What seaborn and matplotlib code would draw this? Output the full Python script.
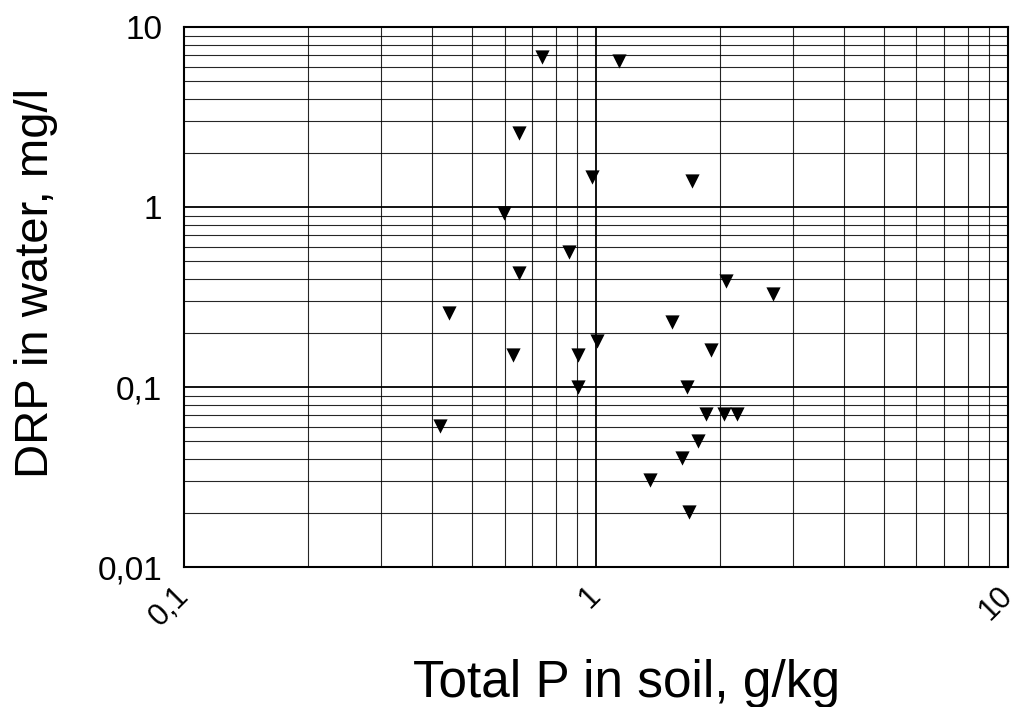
import matplotlib
matplotlib.use("Agg")
import matplotlib.pyplot as plt
import seaborn as sns
import pandas as pd
from matplotlib.ticker import FixedLocator, NullFormatter, LogLocator

# Data
total_p = [0.737, 1.136, 0.648, 0.977, 1.712, 0.598, 0.857, 0.648, 2.063, 2.688,
           0.439, 1.525, 1.004, 1.90, 0.628, 0.906, 0.906, 1.661, 1.845, 2.040,
           2.200, 0.418, 1.769, 1.613, 1.353, 1.683]
drp = [6.80, 6.46, 2.58, 1.48, 1.40, 0.927, 0.561, 0.434, 0.392, 0.331,
       0.260, 0.231, 0.181, 0.161, 0.152, 0.152, 0.101, 0.101, 0.0709, 0.0709,
       0.0709, 0.0608, 0.0506, 0.0406, 0.0304, 0.0203]

x_ticks = [0.1, 1, 10]
x_tick_labels = ["0,1", "1", "10"]
y_ticks = [0.01, 0.1, 1, 10]
y_tick_labels = ["0,01", "0,1", "1", "10"]

sns.set_theme(style="white")
plt.rcParams["font.family"] = ["Liberation Sans", "DejaVu Sans"]
plt.rcParams["text.color"] = "black"
plt.rcParams["xtick.color"] = "black"
plt.rcParams["ytick.color"] = "black"
plt.rcParams["axes.labelcolor"] = "black"

df = pd.DataFrame({"Total P": total_p, "DRP": drp})

fig = plt.figure(figsize=(10.19, 7.07), dpi=100)
ax = fig.add_axes([0.181, 0.1976, 0.808, 0.7638])

sns.scatterplot(data=df, x="Total P", y="DRP", marker="v", color="black",
                s=105, linewidth=0, ax=ax, zorder=3)

ax.set_xscale("log")
ax.set_yscale("log")
ax.set_xlim(0.1, 10)
ax.set_ylim(0.01, 10)

ax.xaxis.set_major_locator(FixedLocator(x_ticks))
ax.yaxis.set_major_locator(FixedLocator(y_ticks))
ax.xaxis.set_minor_locator(LogLocator(base=10, subs=range(2, 10)))
ax.yaxis.set_minor_locator(LogLocator(base=10, subs=range(2, 10)))
ax.xaxis.set_minor_formatter(NullFormatter())
ax.yaxis.set_minor_formatter(NullFormatter())
ax.set_xticklabels(x_tick_labels, rotation=45, ha="right", va="center",
                   rotation_mode="anchor", fontsize=22, color="black")
ax.set_yticklabels(y_tick_labels, fontsize=24, color="black")
ax.tick_params(axis="both", which="both", length=0)
ax.tick_params(axis="y", pad=16)
ax.tick_params(axis="x", pad=17)

ax.grid(True, which="major", color="black", linewidth=1.3)
ax.grid(True, which="minor", color="black", linewidth=0.8, alpha=0.85)
ax.set_axisbelow(True)
for sp in ax.spines.values():
    sp.set_color("black")
    sp.set_linewidth(1.5)

ax.set_xlabel("Total P in soil, g/kg", fontsize=37, color="black")
ax.set_ylabel("DRP in water, mg/l", fontsize=34, color="black")
ax.xaxis.set_label_coords(0.537, -0.24)
ax.xaxis.label.set_va("baseline")
ax.yaxis.set_label_coords(-0.154, 0.526)

fig.savefig("out.png", dpi=100)
